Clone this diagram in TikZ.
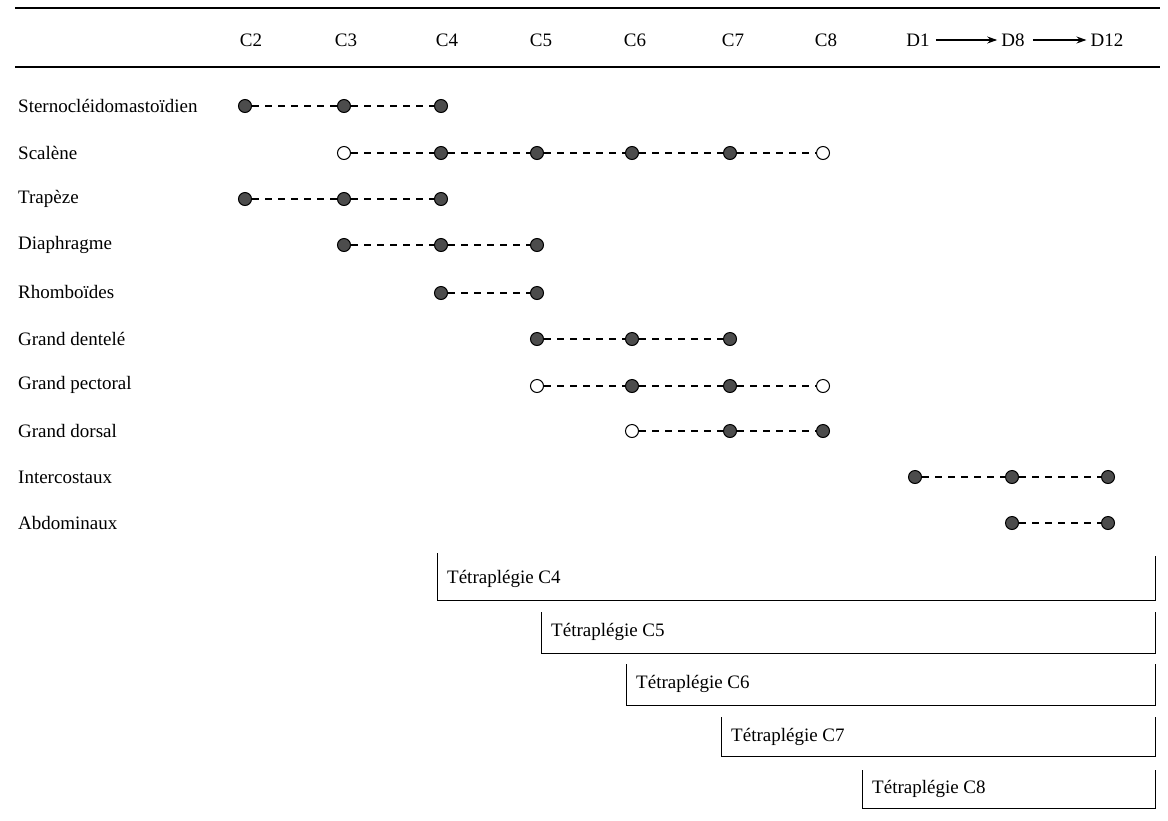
\documentclass[tikz,border=0pt]{standalone}
\usepackage{fontspec}
\setmainfont{Liberation Serif}
\usetikzlibrary{arrows.meta}
\begin{document}
\begin{tikzpicture}[x=1pt,y=-1pt,
  lbl/.style={anchor=west,font=\fontsize{19}{22}\selectfont,inner sep=0pt},
  hdr/.style={font=\fontsize{19}{22}\selectfont,inner sep=0pt},
  fdot/.style={circle,draw=black,fill=black!70,minimum size=13pt,inner sep=0pt,line width=1pt},
  odot/.style={circle,draw=black,fill=white,minimum size=13pt,inner sep=0pt,line width=1pt},
  link/.style={dash pattern=on 7pt off 6pt,line width=1.4pt},
  rulel/.style={line width=1.1pt},
  brk/.style={line width=0.9pt},
  harrow/.style={line width=1.1pt,-{Stealth[length=10pt,width=7pt]}}]
\useasboundingbox (0,0) rectangle (1168,820);

% rules
\draw[rulel] (15,8) -- (1160,8);
\draw[rulel] (15,67) -- (1160,67);

% header
\node[hdr] (hC2) at (251,40) {C2};
\node[hdr] (hC3) at (346,40) {C3};
\node[hdr] (hC4) at (447,40) {C4};
\node[hdr] (hC5) at (541,40) {C5};
\node[hdr] (hC6) at (635,40) {C6};
\node[hdr] (hC7) at (733,40) {C7};
\node[hdr] (hC8) at (826,40) {C8};
\node[hdr] (hD1) at (918,40) {D1};
\node[hdr] (hD8) at (1013,40) {D8};
\node[hdr] (hD12) at (1107,40) {D12};
\draw[harrow] ([xshift=6pt]hD1.east) -- ([xshift=-4pt]hD8.west);
\draw[harrow] ([xshift=8pt]hD8.east) -- ([xshift=-4pt]hD12.west);

% row labels
\node[lbl] (l1) at (18,106) {Sternocléidomastoïdien};
\node[lbl] (l2) at (18,153) {Scalène};
\node[lbl] (l3) at (18,199) {Trapèze};
\node[lbl] (l4) at (18,245) {Diaphragme};
\node[lbl] (l5) at (18,292) {Rhomboïdes};
\node[lbl] (l6) at (18,339) {Grand dentelé};
\node[lbl] (l7) at (18,385) {Grand pectoral};
\node[lbl] (l8) at (18,431) {Grand dorsal};
\node[lbl] (l9) at (18,477) {Intercostaux};
\node[lbl] (l10) at (18,523) {Abdominaux};

% row 1
\node[fdot] (a1) at (245,106) {};
\node[fdot] (a2) at (344,106) {};
\node[fdot] (a3) at (441,106) {};
\draw[link] (a1) -- (a2) -- (a3);
% row 2
\node[odot] (b1) at (344,153) {};
\node[fdot] (b2) at (441,153) {};
\node[fdot] (b3) at (537,153) {};
\node[fdot] (b4) at (632,153) {};
\node[fdot] (b5) at (730,153) {};
\node[odot] (b6) at (823,153) {};
\draw[link] (b1) -- (b2) -- (b3) -- (b4) -- (b5) -- (b6);
% row 3
\node[fdot] (c1) at (245,199) {};
\node[fdot] (c2) at (344,199) {};
\node[fdot] (c3) at (441,199) {};
\draw[link] (c1) -- (c2) -- (c3);
% row 4
\node[fdot] (d1) at (344,245) {};
\node[fdot] (d2) at (441,245) {};
\node[fdot] (d3) at (537,245) {};
\draw[link] (d1) -- (d2) -- (d3);
% row 5
\node[fdot] (e1) at (441,293) {};
\node[fdot] (e2) at (537,293) {};
\draw[link] (e1) -- (e2);
% row 6
\node[fdot] (f1) at (537,339) {};
\node[fdot] (f2) at (632,339) {};
\node[fdot] (f3) at (730,339) {};
\draw[link] (f1) -- (f2) -- (f3);
% row 7
\node[odot] (g1) at (537,386) {};
\node[fdot] (g2) at (632,386) {};
\node[fdot] (g3) at (730,386) {};
\node[odot] (g4) at (823,386) {};
\draw[link] (g1) -- (g2) -- (g3) -- (g4);
% row 8
\node[odot] (h1) at (632,431) {};
\node[fdot] (h2) at (730,431) {};
\node[fdot] (h3) at (823,431) {};
\draw[link] (h1) -- (h2) -- (h3);
% row 9
\node[fdot] (i1) at (915,477) {};
\node[fdot] (i2) at (1012,477) {};
\node[fdot] (i3) at (1108,477) {};
\draw[link] (i1) -- (i2) -- (i3);
% row 10
\node[fdot] (j1) at (1012,523) {};
\node[fdot] (j2) at (1108,523) {};
\draw[link] (j1) -- (j2);

% brackets
\node[lbl] (t4) at (447,579) {Tétraplégie C4};
\draw[brk] (437,553) -- (437,600) -- (1155,600) -- (1155,556);
\node[lbl] (t5) at (551,632) {Tétraplégie C5};
\draw[brk] (541,612) -- (541,653) -- (1155,653) -- (1155,612);
\node[lbl] (t6) at (636,684) {Tétraplégie C6};
\draw[brk] (626,664) -- (626,705) -- (1155,705) -- (1155,664);
\node[lbl] (t7) at (731,737) {Tétraplégie C7};
\draw[brk] (721,717) -- (721,756) -- (1155,756) -- (1155,717);
\node[lbl] (t8) at (872,789) {Tétraplégie C8};
\draw[brk] (862,770) -- (862,808) -- (1155,808) -- (1155,770);
\end{tikzpicture}
\end{document}
